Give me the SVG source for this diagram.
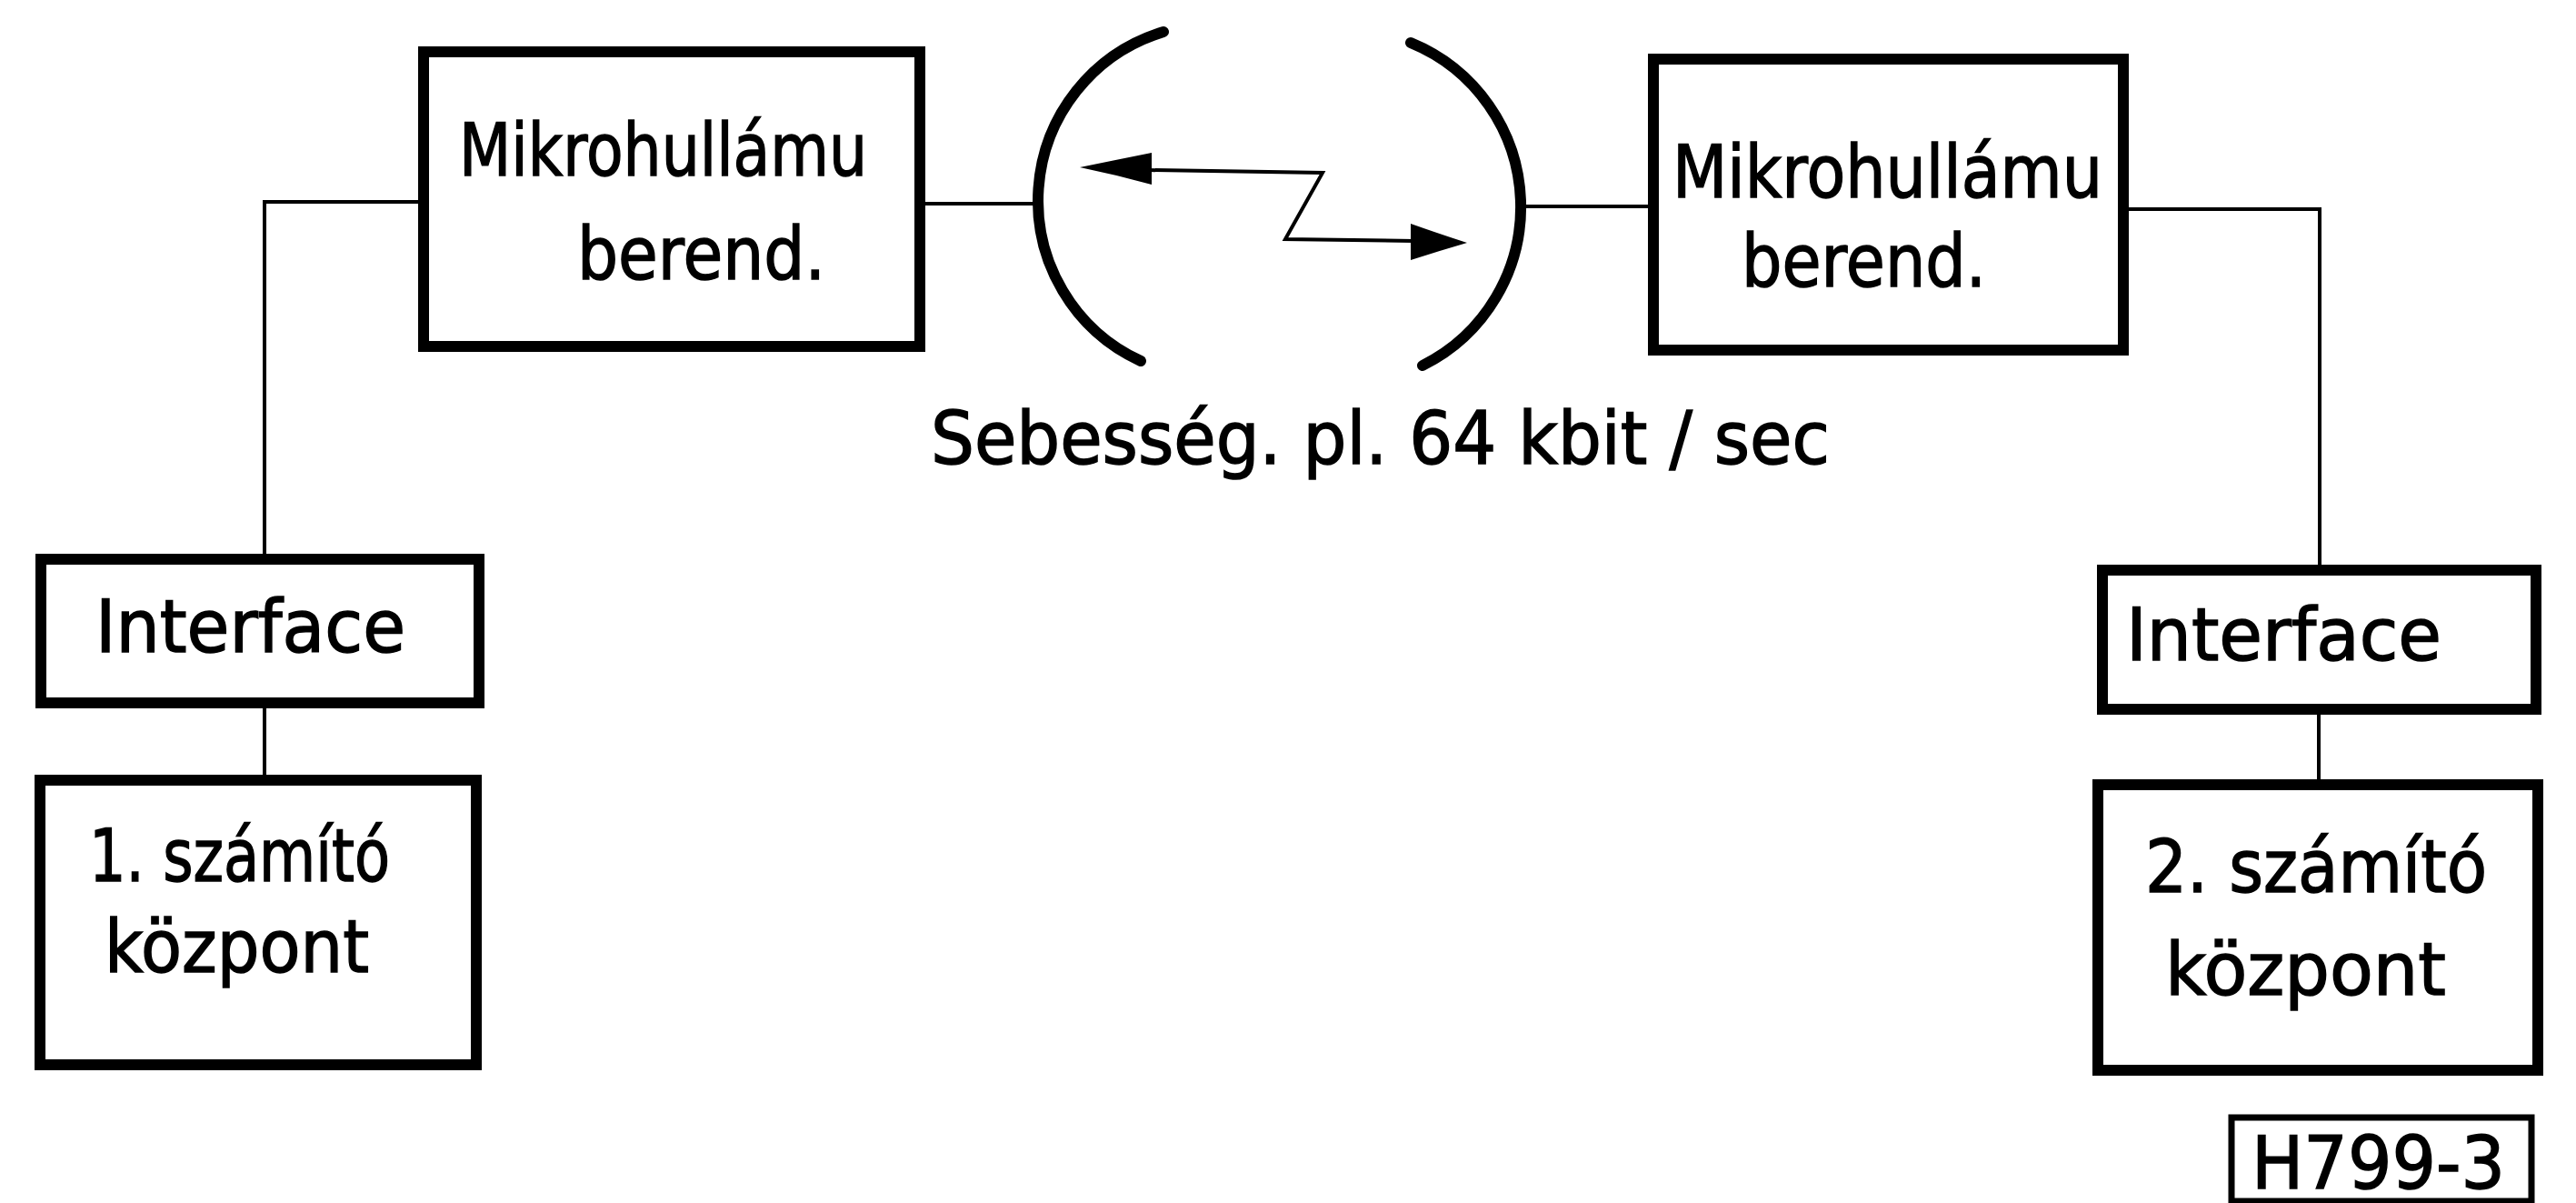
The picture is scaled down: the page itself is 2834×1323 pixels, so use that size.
<svg xmlns="http://www.w3.org/2000/svg" width="2834" height="1323" viewBox="0 0 2834 1323">
  <style>
    .box { fill: none; stroke: #000; stroke-width: 12; }
    .wire { fill: none; stroke: #000; stroke-width: 4; }
    .dish { fill: none; stroke: #000; stroke-width: 12; stroke-linecap: round; }
    .lbl { font-family: "DejaVu Sans", "Liberation Sans", sans-serif; font-size: 80px; fill: #000; stroke: #000; stroke-width: 1.5; }
  </style>
  <rect width="2834" height="1323" fill="#fff"/>

  <!-- wiring between the units -->
  <g id="connectors">
    <path class="wire" d="M 466 222 H 291 V 615"/>
    <path class="wire" d="M 291 773 V 858"/>
    <path class="wire" d="M 1012 224 H 1144"/>
    <path class="wire" d="M 1674 227 H 1819"/>
    <path class="wire" d="M 2336 230 H 2552 V 627"/>
    <path class="wire" d="M 2551 780 V 863"/>
  </g>

  <!-- radio link: two antenna dishes with the zig-zag path -->
  <g id="radio-link">
    <path class="dish" d="M 1280 35 A 194 194 0 0 0 1255 397"/>
    <path class="dish" d="M 1552 47 A 195 195 0 0 1 1565 402"/>
    <polyline class="wire" points="1262,187 1455,190 1414,263 1556,265"/>
    <path d="M 1188 184 Q 1227 176 1267 168 L 1267 203 Q 1227 192 1188 184 Z" fill="#000"/>
    <path d="M 1614 267 Q 1583 257 1552 246 L 1552 286 Q 1583 276 1614 267 Z" fill="#000"/>
    <text class="lbl" x="1024" y="510" font-size="94" textLength="989" lengthAdjust="spacingAndGlyphs">Sebesség. pl. 64 kbit / sec</text>
  </g>

  <g id="mw-left">
    <rect class="box" x="466" y="57" width="546" height="324"/>
    <text class="lbl" x="505" y="193" textLength="449" lengthAdjust="spacingAndGlyphs">Mikrohullámu</text>
    <text class="lbl" x="635" y="307" textLength="273" lengthAdjust="spacingAndGlyphs">berend.</text>
  </g>

  <g id="mw-right">
    <rect class="box" x="1819" y="65" width="517" height="320"/>
    <text class="lbl" x="1840" y="217" textLength="473" lengthAdjust="spacingAndGlyphs">Mikrohullámu</text>
    <text class="lbl" x="1916" y="315" textLength="269" lengthAdjust="spacingAndGlyphs">berend.</text>
  </g>

  <g id="if-left">
    <rect class="box" x="45" y="615" width="482" height="158"/>
    <text class="lbl" x="105" y="717" textLength="341" lengthAdjust="spacingAndGlyphs">Interface</text>
  </g>

  <g id="cc-left">
    <rect class="box" x="44" y="858" width="480" height="313"/>
    <text class="lbl" x="98" y="969" textLength="331" lengthAdjust="spacingAndGlyphs">1. számító</text>
    <text class="lbl" x="115" y="1069" textLength="291" lengthAdjust="spacingAndGlyphs">központ</text>
  </g>

  <g id="if-right">
    <rect class="box" x="2313" y="627" width="477" height="153"/>
    <text class="lbl" x="2339" y="726" textLength="347" lengthAdjust="spacingAndGlyphs">Interface</text>
  </g>

  <g id="cc-right">
    <rect class="box" x="2308" y="863" width="484" height="314"/>
    <text class="lbl" x="2360" y="981" textLength="376" lengthAdjust="spacingAndGlyphs">2. számító</text>
    <text class="lbl" x="2382" y="1094" textLength="309" lengthAdjust="spacingAndGlyphs">központ</text>
  </g>

  <g id="drawing-no">
    <rect x="2455" y="1229" width="330" height="92" fill="none" stroke="#000" stroke-width="7"/>
    <text class="lbl" x="2477" y="1307" textLength="279" lengthAdjust="spacingAndGlyphs">H799-3</text>
  </g>
</svg>
